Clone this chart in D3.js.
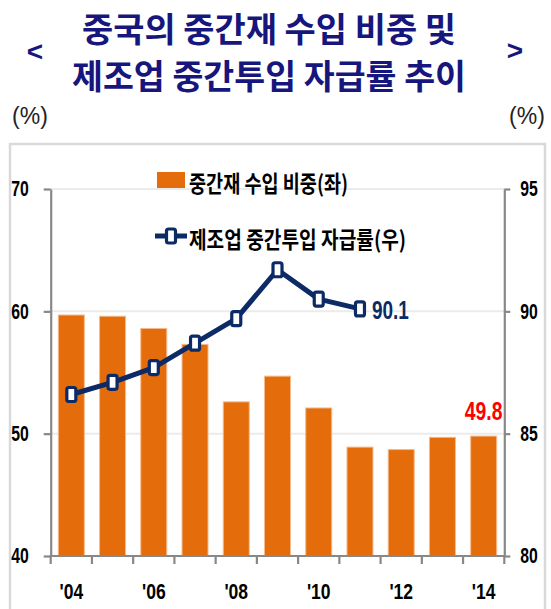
<!DOCTYPE html>
<html>
<head>
<meta charset="utf-8">
<script src="https://cdn.jsdelivr.net/npm/d3@7"></script>
<style>
  body { margin: 0; background: #fff; }
  svg { display: block; }
</style>
</head>
<body>
<div id="chart"></div>
<script>
// data
var years = [2004, 2005, 2006, 2007, 2008, 2009, 2010, 2011, 2012, 2013, 2014];
var importShare = [59.7, 59.6, 58.6, 57.3, 52.6, 54.7, 52.1, 48.9, 48.7, 49.7, 49.8];   // 중간재 수입 비중 (left)
var selfYears = [2004, 2005, 2006, 2007, 2008, 2009, 2010, 2011];
var selfRate = [86.6, 87.1, 87.7, 88.7, 89.7, 91.7, 90.5, 90.1];                      // 자급률 (right)
var leftTicks = [40, 50, 60, 70];
var rightTicks = [80, 85, 90, 95];
var labelYears = [2004, 2006, 2008, 2010, 2012, 2014];

var titleLines = ["중국의 중간재 수입 비중 및", "제조업  중간투입 자급률 추이"];
var legendBar = "중간재 수입 비중(좌)";
var legendLine = "제조업  중간투입 자급률(우)";

var W = 551, H = 609;
var orange = "#e46c0a", navy = "#0b2a66", titleCol = "#16167c";
var numFont = "'Liberation Sans',Arial,sans-serif";
var kr = "'Noto Sans CJK KR','Noto Sans',sans-serif";

var plot = {left: 50.7, right: 504.3, top: 189, bottom: 556};

// squeeze numbers to look like the narrow bold font of the original
function narrowWidth(str, size) {
  var w = 0;
  for (var k = 0; k < str.length; k++) {
    var c = str[k];
    if (c == ".") w += 0.22;
    else if (c == "'") w += 0.2;
    else w += 0.45;
  }
  return w * size;
}
function condense(sel, size) {
  sel.each(function() {
    var t = d3.select(this);
    t.attr("textLength", narrowWidth(t.text(), size))
     .attr("lengthAdjust", "spacingAndGlyphs");
  });
}

var svg = d3.select("#chart").append("svg")
    .attr("width", W)
    .attr("height", H);

// outer panel border
svg.append("rect")
    .attr("x", 10).attr("y", 144)
    .attr("width", 535).attr("height", 520)
    .style("fill", "none")
    .style("stroke", "#d9d9d9")
    .style("stroke-width", 2.5);

// title
svg.selectAll(".title")
    .data(titleLines)
  .enter().append("text")
    .attr("class", "title")
    .attr("x", 269)
    .attr("y", function(d, i) { return i == 0 ? 27 : 74; })
    .attr("dominant-baseline", "central")
    .attr("text-anchor", "middle")
    .attr("textLength", function(d, i) { return i == 0 ? 374 : 394; })
    .attr("lengthAdjust", "spacingAndGlyphs")
    .style("font-family", kr)
    .style("font-weight", "bold")
    .style("font-size", "34px")
    .style("fill", titleCol)
    .text(function(d) { return d; });

svg.append("text")
    .attr("x", 35).attr("y", 51)
    .attr("dominant-baseline", "central")
    .attr("text-anchor", "middle")
    .style("font-family", numFont)
    .style("font-weight", "bold")
    .style("font-size", "28px")
    .style("fill", titleCol)
    .text("<");
svg.append("text")
    .attr("x", 515).attr("y", 50)
    .attr("dominant-baseline", "central")
    .attr("text-anchor", "middle")
    .style("font-family", numFont)
    .style("font-weight", "bold")
    .style("font-size", "28px")
    .style("fill", titleCol)
    .text(">");

// unit labels
svg.append("text")
    .attr("x", 30).attr("y", 116)
    .attr("dominant-baseline", "central")
    .attr("text-anchor", "middle")
    .style("font-family", numFont)
    .style("font-size", "23px")
    .style("fill", "#222")
    .text("(%)");
svg.append("text")
    .attr("x", 527).attr("y", 116)
    .attr("dominant-baseline", "central")
    .attr("text-anchor", "middle")
    .style("font-family", numFont)
    .style("font-size", "23px")
    .style("fill", "#222")
    .text("(%)");

// scales
var x = d3.scaleBand()
    .domain(years)
    .range([plot.left, plot.right])
    .paddingInner(0.37)
    .paddingOuter(0.185);

var yL = d3.scaleLinear().domain([40, 70]).range([plot.bottom, plot.top]);
var yR = d3.scaleLinear().domain([80, 95]).range([plot.bottom, plot.top]);

// gridlines
svg.selectAll(".grid")
    .data(leftTicks.slice(1))
  .enter().append("line")
    .attr("class", "grid")
    .attr("x1", plot.left).attr("x2", plot.right)
    .attr("y1", function(d) { return yL(d); })
    .attr("y2", function(d) { return yL(d); })
    .style("stroke", "#ebebeb")
    .style("stroke-width", 2);

// bars
svg.selectAll(".bar")
    .data(importShare)
  .enter().append("rect")
    .attr("class", "bar")
    .attr("x", function(d, i) { return x(years[i]); })
    .attr("y", function(d) { return yL(d); })
    .attr("width", x.bandwidth())
    .attr("height", function(d) { return plot.bottom - yL(d); })
    .style("fill", orange)
    .style("stroke", "#f6b98a")
    .style("stroke-width", 1);

// axes
function styleAxis(g) {
  g.select(".domain").style("stroke", "#888").style("stroke-width", 2.2);
  g.selectAll(".tick line").style("stroke", "#888").style("stroke-width", 2.2);
  g.selectAll("text")
      .style("font-family", numFont)
      .style("font-weight", "bold")
      .style("font-size", "21.5px")
      .style("fill", "#000")
      .call(condense, 19.5);
}

svg.append("g")
    .attr("transform", "translate(" + plot.left + ",0)")
    .call(d3.axisLeft(yL).tickValues(leftTicks).tickSize(7).tickSizeOuter(0).tickPadding(15))
    .call(styleAxis);

svg.append("g")
    .attr("transform", "translate(" + plot.right + ",0)")
    .call(d3.axisRight(yR).tickValues(rightTicks).tickSize(6).tickSizeOuter(0).tickPadding(10))
    .call(styleAxis);

var xAxis = svg.append("g")
    .attr("transform", "translate(0," + plot.bottom + ")")
    .call(d3.axisBottom(x)
        .tickValues(labelYears)
        .tickSize(0)
        .tickSizeOuter(0)
        .tickPadding(27)
        .tickFormat(function(d) { return "'" + String(d).slice(2); }))
    .call(styleAxis);
xAxis.select(".domain").attr("d", "M" + (plot.left - 1) + ",0H" + (plot.right + 1));
xAxis.selectAll("text").style("font-size", "22.5px").call(condense, 21.5);

// category boundary ticks
var bounds = d3.range(years.length + 1).map(function(i) { return plot.left + i * x.step(); });
xAxis.selectAll(".bound")
    .data(bounds)
  .enter().append("line")
    .attr("class", "bound")
    .attr("x1", function(d) { return d; })
    .attr("x2", function(d) { return d; })
    .attr("y1", 0).attr("y2", 8)
    .style("stroke", "#888")
    .style("stroke-width", 2.2);

// line series
var cx = function(yr) { return x(yr) + x.bandwidth() / 2; };
var line = d3.line()
    .x(function(d, i) { return cx(selfYears[i]); })
    .y(function(d) { return yR(d); });

svg.append("path")
    .datum(selfRate)
    .attr("d", line)
    .style("fill", "none")
    .style("stroke", navy)
    .style("stroke-width", 5)
    .style("stroke-linejoin", "round");

function marker(sel) {
  sel.attr("width", 9).attr("height", 14)
      .attr("rx", 2).attr("ry", 2)
      .style("fill", "#fff")
      .style("stroke", navy)
      .style("stroke-width", 3.2);
}

svg.selectAll(".mk")
    .data(selfRate)
  .enter().append("rect")
    .attr("class", "mk")
    .attr("x", function(d, i) { return cx(selfYears[i]) - 4.5; })
    .attr("y", function(d) { return yR(d) - 7; })
    .call(marker);

// value labels
svg.append("text")
    .attr("x", cx(selfYears[selfYears.length - 1]) + 12)
    .attr("y", yR(selfRate[selfRate.length - 1]) + 1)
    .attr("dominant-baseline", "central")
    .style("font-family", numFont)
    .style("font-weight", "bold")
    .style("font-size", "26px")
    .style("fill", navy)
    .text(selfRate[selfRate.length - 1].toFixed(1))
    .call(condense, 23.5);

svg.append("text")
    .attr("x", cx(years[years.length - 1]))
    .attr("y", yL(importShare[importShare.length - 1]) - 16)
    .attr("text-anchor", "middle")
    .style("font-family", numFont)
    .style("font-weight", "bold")
    .style("font-size", "26px")
    .style("fill", "#ff0000")
    .text(importShare[importShare.length - 1].toFixed(1))
    .call(condense, 24);

// legend
svg.append("rect")
    .attr("x", 157).attr("y", 172)
    .attr("width", 28).attr("height", 16)
    .style("fill", orange);
svg.append("text")
    .attr("x", 189).attr("y", 182)
    .attr("dominant-baseline", "central")
    .attr("textLength", 159)
    .attr("lengthAdjust", "spacingAndGlyphs")
    .style("font-family", kr)
    .style("font-weight", "bold")
    .style("font-size", "23px")
    .style("fill", "#000")
    .text(legendBar);

svg.append("line")
    .attr("x1", 155).attr("x2", 187)
    .attr("y1", 236).attr("y2", 236)
    .style("stroke", navy)
    .style("stroke-width", 5);
svg.append("rect")
    .attr("x", 171 - 4.5).attr("y", 236 - 7)
    .call(marker);
svg.append("text")
    .attr("x", 189).attr("y", 238)
    .attr("dominant-baseline", "central")
    .attr("textLength", 217)
    .attr("lengthAdjust", "spacingAndGlyphs")
    .style("font-family", kr)
    .style("font-weight", "bold")
    .style("font-size", "23px")
    .style("fill", "#000")
    .text(legendLine);
</script>
</body>
</html>
